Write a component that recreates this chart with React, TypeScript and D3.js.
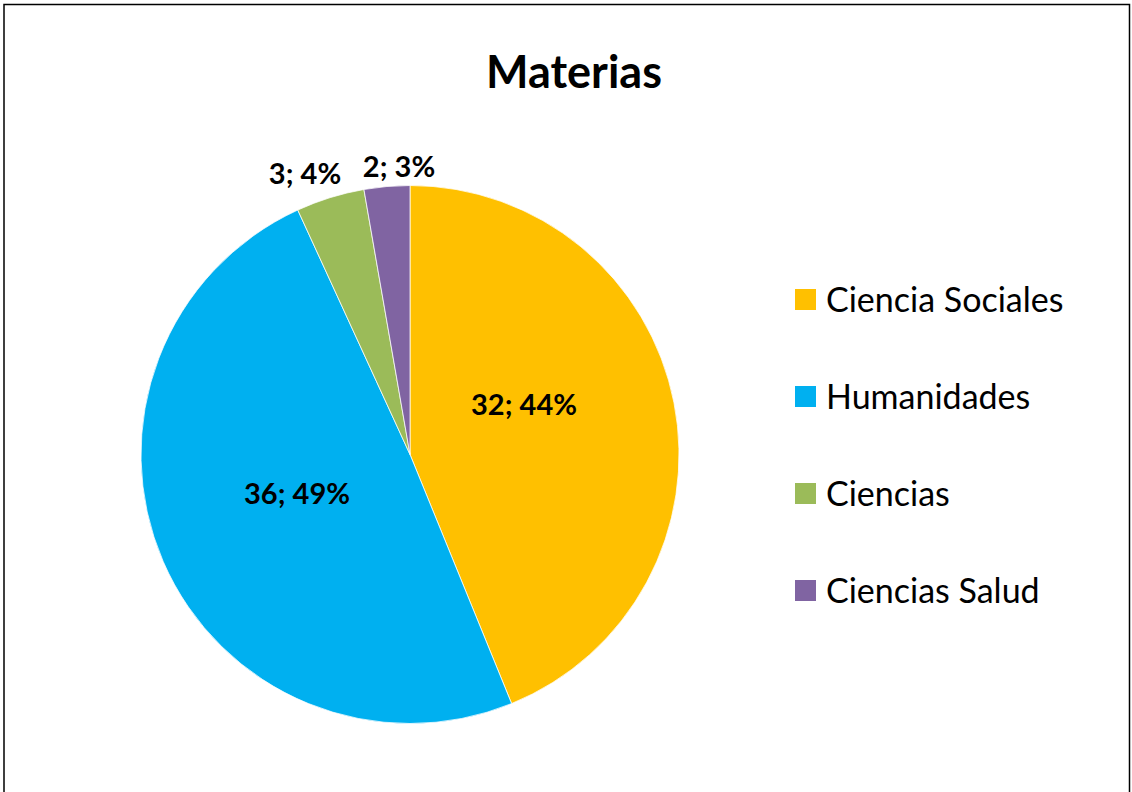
import React from "react";
import * as d3 from "d3";

const categories = ["Ciencia Sociales", "Humanidades", "Ciencias", "Ciencias Salud"];
const values = [32, 36, 3, 2];
const colors = ["#FFC000", "#00B0F0", "#9BBB59", "#8064A2"];
const title = "Materias";

const W = 1132;
const H = 792;
const cx = 410;
const cy = 454.5;
const R = 269;
// label offsets relative to pie centre (layout only)
const labelOffsets: [number, number][] = [
  [114, -50],
  [-113, 39],
  [-105, -281],
  [-11, -288],
];

export default function App() {
  const total = d3.sum(values);
  const pie = d3.pie<number>().sort(null).value((d) => d)(values);
  const arc = d3.arc<d3.PieArcDatum<number>>().innerRadius(0).outerRadius(R);
  const font = "Lato, 'Open Sans', sans-serif";

  return (
    <svg width={W} height={H} style={{ position: "absolute", left: 0, top: 0 }}>
      <rect x={0} y={0} width={W} height={H} fill="#fff" />
      <rect x={4} y={4.5} width={1125.5} height={H + 10} fill="none" stroke="#000" strokeWidth={1.5} />
      <text x={574} y={88} textAnchor="middle" fontFamily={font} fontWeight="bold" fontSize={45} fill="#000">
        {title}
      </text>
      <g transform={`translate(${cx},${cy})`}>
        {pie.map((d, i) => (
          <path key={categories[i]} d={arc(d) || ""} fill={colors[i]} stroke="#fff" strokeWidth={0.75} />
        ))}
        {pie.map((d, i) => {
          const [x, y] = labelOffsets[i];
          const pct = Math.round((values[i] / total) * 100);
          return (
            <text
              key={"l" + i}
              x={x}
              y={y}
              dy="0.36em"
              textAnchor="middle"
              fontFamily={font}
              fontWeight="bold"
              fontSize={29}
              fill="#000"
            >
              {`${values[i]}; ${pct}%`}
            </text>
          );
        })}
      </g>
      <g>
        {categories.map((c, i) => (
          <g key={c} transform={`translate(795,${289 + i * 97})`}>
            <rect x={0} y={0} width={21} height={21} fill={colors[i]} />
            <text x={31} y={10.5} dy="0.36em" fontFamily={font} fontSize={34} fill="#000">
              {c}
            </text>
          </g>
        ))}
      </g>
    </svg>
  );
}
